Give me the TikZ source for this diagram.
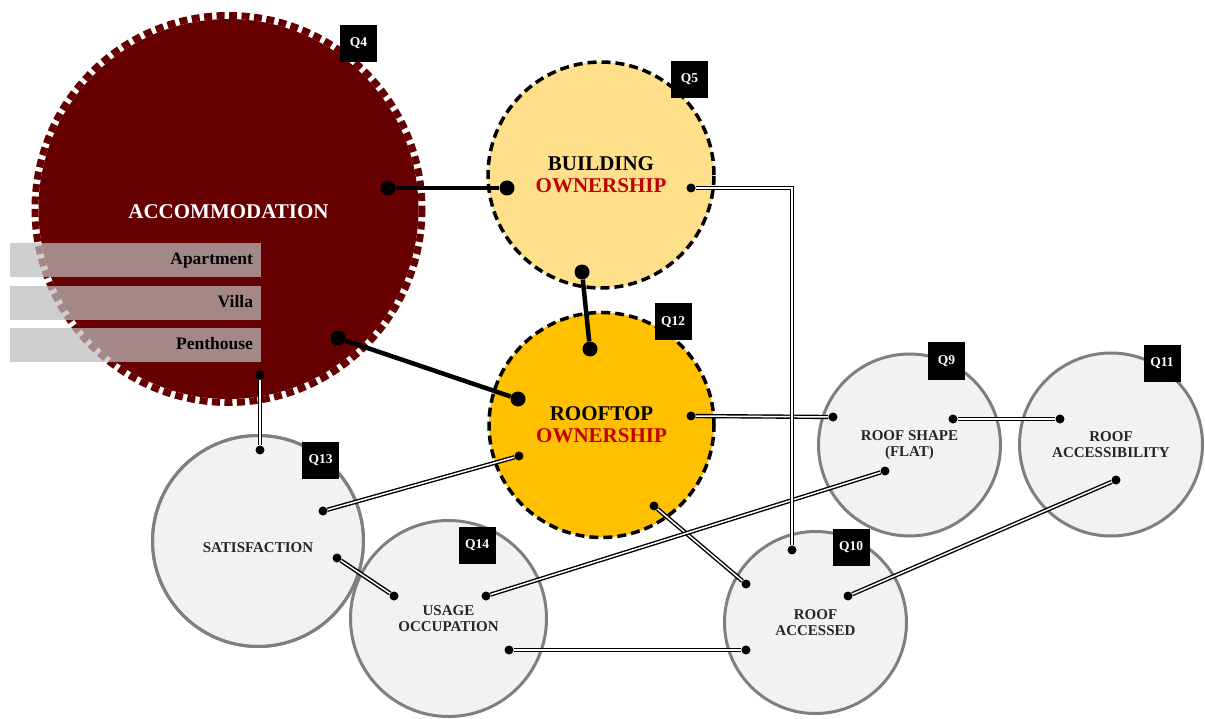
\documentclass[tikz,border=0pt]{standalone}
\usepackage{fontspec}
\setmainfont{Liberation Serif}
\definecolor{accred}{HTML}{660000}
\definecolor{ownred}{HTML}{C00000}
\definecolor{bldgold}{HTML}{FFE08A}
\definecolor{roofgold}{HTML}{FFC000}
\definecolor{qgray}{HTML}{F2F2F2}
\definecolor{qedge}{HTML}{7F7F7F}
\definecolor{qtext}{HTML}{262626}
\definecolor{barfill}{HTML}{BDBDBD}

\begin{document}
\begin{tikzpicture}[x=1pt, y=-1pt,
    accbase/.style={circle, fill=accred, minimum size=380pt, inner sep=0pt},
    accring/.style={draw=accred, line width=7pt, dash pattern=on 8pt off 4.5pt},
    owncircle/.style={circle, draw=black, line width=3.5pt, dash pattern=on 9pt off 5pt,
        inner sep=0pt, align=center, font=\fontsize{21}{22}\selectfont\bfseries},
    factor/.style={circle, draw=qedge, fill=qgray, line width=3pt, inner sep=0pt,
        text=qtext, align=center, font=\fontsize{15}{16.5}\selectfont\bfseries},
    qbox/.style={fill=black, text=white, minimum size=37pt, inner sep=0pt,
        font=\fontsize{13.5}{14}\selectfont\bfseries},
    typebar/.style={fill=barfill, fill opacity=0.72, text opacity=1, minimum height=34pt,
        text width=235pt, inner xsep=8pt, inner ysep=0pt, align=right,
        text height=12.5pt, text depth=3.5pt, font=\fontsize{17.5}{18}\selectfont\bfseries},
    bigdot/.style={circle, fill=black, minimum size=15pt, inner sep=0pt},
    smalldot/.style={circle, fill=black, minimum size=9pt, inner sep=0pt},
    heavy/.style={line width=4.5pt},
    dlink/.style={draw=black, double=white, line width=1.4pt, double distance=1.5pt}]

    \useasboundingbox (0, 0) rectangle (1205, 719);

    % circles
    \node[accbase] (acc) at (228.5, 209) {};
    \draw[accring] (acc.center) circle (193.5);
    \node[text=white, font=\fontsize{21}{22}\selectfont\bfseries] (acctext) at (228.5, 211.5) {ACCOMMODATION};

    \node[owncircle, fill=bldgold, minimum size=226pt] (bo) at (601, 175) {BUILDING\\\textcolor{ownred}{OWNERSHIP}};
    \node[owncircle, fill=roofgold, minimum size=225pt] (ro) at (601.5, 425) {ROOFTOP\\\textcolor{ownred}{OWNERSHIP}};

    \node[factor, minimum size=211pt, text height=22pt, text depth=0pt] (sat) at (258, 541) {SATISFACTION};
    \node[factor, minimum size=196pt] (use) at (448.5, 618.5) {USAGE\\OCCUPATION};
    \draw[qedge, line width=3pt] (sat.center) circle (105.5);
    \node[factor, minimum size=182pt] (shape) at (909.5, 445) {ROOF SHAPE\\(FLAT)};
    \node[factor, minimum size=183pt] (access) at (1111, 444.5) {ROOF\\ACCESSIBILITY};
    \node[factor, minimum size=182pt] (accd) at (815.5, 622.5) {ROOF\\ACCESSED};

    % accommodation types
    \node[typebar] (apt) at (135.5, 260) {Apartment};
    \node[typebar] (villa) at (135.5, 303) {Villa};
    \node[typebar] (pent) at (135.5, 345) {Penthouse};

    % end points
    \node[bigdot] (acc1) at (388, 188) {};
    \node[bigdot] (acc2) at (338, 338) {};
    \node[bigdot] (bo1) at (507, 188) {};
    \node[bigdot] (bo2) at (582, 272) {};
    \node[bigdot] (ro1) at (590, 349) {};
    \node[bigdot] (ro2) at (518, 399) {};

    \node[smalldot] (acc3) at (260, 375) {};
    \node[smalldot] (bo3) at (691, 188) {};
    \node[smalldot] (ro3) at (691, 416) {};
    \node[smalldot] (ro4) at (519, 456) {};
    \node[smalldot] (ro5) at (654, 506) {};
    \node[smalldot] (sat1) at (260, 450) {};
    \node[smalldot] (sat2) at (323, 511) {};
    \node[smalldot] (sat3) at (337, 558) {};
    \node[smalldot] (use1) at (394, 596) {};
    \node[smalldot] (use2) at (486, 596) {};
    \node[smalldot] (use3) at (509, 650) {};
    \node[smalldot] (shape1) at (833, 417) {};
    \node[smalldot] (shape2) at (953, 419) {};
    \node[smalldot] (shape3) at (885, 471) {};
    \node[smalldot] (access1) at (1060, 419) {};
    \node[smalldot] (access2) at (1116, 480) {};
    \node[smalldot] (accd1) at (792, 550) {};
    \node[smalldot] (accd2) at (746, 584) {};
    \node[smalldot] (accd3) at (746, 650) {};
    \node[smalldot] (accd4) at (848, 596) {};

    % connectors
    \draw[heavy] (acc1) -- (bo1);
    \draw[heavy] (acc2) -- (ro2);
    \draw[heavy] (bo2) -- (ro1);

    \draw[dlink] (acc3) -- (sat1);
    \draw[dlink] (ro3) -- (shape1);
    \draw[dlink] (ro4) -- (sat2);
    \draw[dlink] (ro5) -- (accd2);
    \draw[dlink] (sat3) -- (use1);
    \draw[dlink] (use2) -- (shape3);
    \draw[dlink] (use3) -- (accd3);
    \draw[dlink] (shape2) -- (access1);
    \draw[dlink] (accd4) -- (access2);
    \draw[dlink] (bo3) -| (accd1);

    % question tags
    \node[qbox] (q4) at (358.5, 43.5) {Q4};
    \node[qbox] (q5) at (689.5, 79.5) {Q5};
    \node[qbox] (q12) at (673, 322) {Q12};
    \node[qbox] (q13) at (320.5, 460.5) {Q13};
    \node[qbox] (q14) at (477, 545.5) {Q14};
    \node[qbox] (q9) at (946.5, 361) {Q9};
    \node[qbox] (q11) at (1162, 363.5) {Q11};
    \node[qbox] (q10) at (851, 547.5) {Q10};
\end{tikzpicture}
\end{document}
